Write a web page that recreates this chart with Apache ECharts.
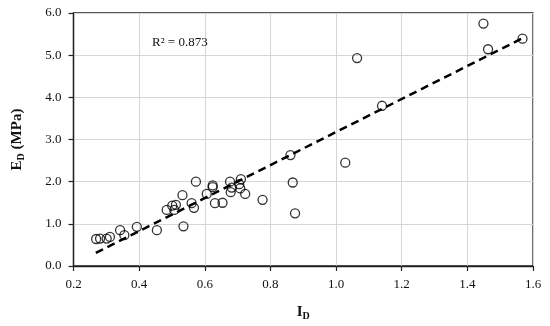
<!DOCTYPE html>
<html><head><meta charset="utf-8">
<script src="https://cdn.jsdelivr.net/npm/echarts@6/dist/echarts.min.js"></script>
<style>html,body{margin:0;padding:0;background:#fff}#c{width:550px;height:326px}</style>
</head><body><div id="c"></div>
<script>
const xValues = [0.269,0.281,0.301,0.311,0.342,0.355,0.393,0.454,0.484,0.501,0.512,0.507,0.532,0.535,0.560,0.567,0.573,0.606,0.624,0.624,0.631,0.654,0.677,0.682,0.679,0.710,0.705,0.708,0.723,0.776,0.861,0.868,0.875,1.028,1.064,1.140,1.449,1.463,1.568];
const yValues = [0.64,0.65,0.65,0.69,0.85,0.73,0.93,0.85,1.33,1.43,1.45,1.33,1.68,0.94,1.49,1.38,2.00,1.71,1.91,1.87,1.49,1.50,2.00,1.86,1.75,2.06,1.94,1.84,1.71,1.57,2.63,1.98,1.25,2.45,4.93,3.80,5.75,5.14,5.39];
const trendX = [0.268,1.565];
const trendY = [0.31,5.39];
const xTicks = [0.2,0.4,0.6,0.8,1.0,1.2,1.4,1.6];
const yTicks = [0,1,2,3,4,5,6];
const r2Text = 'R² = 0.873';

const chart = echarts.init(document.getElementById('c'));
const font = 'Liberation Serif, DejaVu Serif, serif';
chart.setOption({
  animation:false,
  backgroundColor:'#fff',
  grid:{left:73.5,right:17,top:13,bottom:57.7,show:true,borderColor:'#222',borderWidth:1.3,containLabel:false},
  title:{text:r2Text,left:147,top:31,textStyle:{fontFamily:font,fontSize:13,fontWeight:'normal',color:'#111'}},
  xAxis:{type:'value',min:xTicks[0],max:xTicks[xTicks.length-1],interval:0.2,
    axisLine:{show:true,lineStyle:{color:'#222',width:1.3}},
    axisTick:{show:true,length:5,lineStyle:{color:'#222',width:1.2}},
    splitLine:{show:true,lineStyle:{color:'#d6d6d6',width:1}},
    axisLabel:{fontFamily:font,fontSize:13,color:'#111',margin:12,formatter:v=>v.toFixed(1)},
    name:'{b|I}{s|D}',nameLocation:'middle',nameGap:37,
    nameTextStyle:{rich:{b:{fontFamily:font,fontSize:15,fontWeight:'bold',color:'#111'},s:{fontFamily:font,fontSize:10,fontWeight:'bold',color:'#111',padding:[8,0,0,0]}}}
  },
  yAxis:{type:'value',min:yTicks[0],max:yTicks[yTicks.length-1],interval:1,
    axisLine:{show:true,lineStyle:{color:'#222',width:1.3}},
    axisTick:{show:true,length:5,lineStyle:{color:'#222',width:1.2}},
    splitLine:{show:true,lineStyle:{color:'#d6d6d6',width:1}},
    axisLabel:{fontFamily:font,fontSize:13,color:'#111',margin:12,formatter:v=>v.toFixed(1)},
    name:'{b|E}{s|D}{b| (MPa)}',nameLocation:'middle',nameGap:47,nameRotate:90,
    nameTextStyle:{rich:{b:{fontFamily:font,fontSize:15,fontWeight:'bold',color:'#111'},s:{fontFamily:font,fontSize:10,fontWeight:'bold',color:'#111',padding:[8,0,0,0]}}}
  },
  series:[
    {type:'line',data:trendX.map((x,i)=>[x,trendY[i]]),symbol:'none',z:3,
     lineStyle:{color:'#000',width:2.5,type:[8,5]}},
    {type:'scatter',data:xValues.map((x,i)=>[x,yValues[i]]),symbol:'circle',symbolSize:9,z:4,
     itemStyle:{color:'rgba(255,255,255,0)',borderColor:'#000',borderWidth:1.3}}
  ]
});
</script></body></html>
